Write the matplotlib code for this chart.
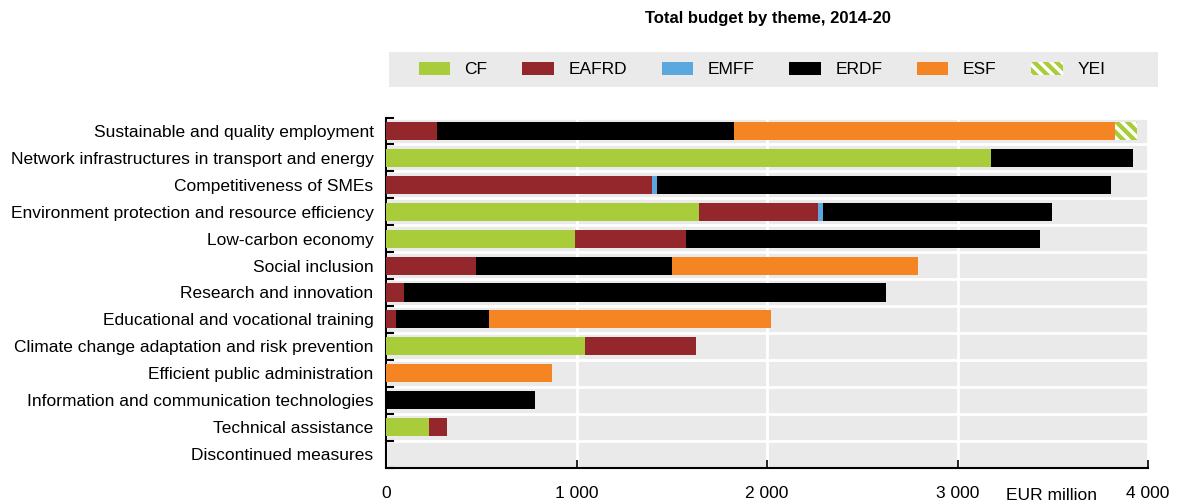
import matplotlib
matplotlib.use("Agg")
import matplotlib.pyplot as plt
from matplotlib.patches import Patch, Rectangle
import numpy as np

plt.rcParams['font.family'] = ['Liberation Sans Narrow', 'Liberation Sans', 'DejaVu Sans']
plt.rcParams['hatch.linewidth'] = 2.5

themes = [
    "Sustainable and quality employment",
    "Network infrastructures in transport and energy",
    "Competitiveness of SMEs",
    "Environment protection and resource efficiency",
    "Low-carbon economy",
    "Social inclusion",
    "Research and innovation",
    "Educational and vocational training",
    "Climate change adaptation and risk prevention",
    "Efficient public administration",
    "Information and communication technologies",
    "Technical assistance",
    "Discontinued measures",
]
funds = ["CF", "EAFRD", "EMFF", "ERDF", "ESF", "YEI"]
CF    = [0,    3176, 0,    1643, 992,  0,    0,    0,    1045, 0,   0,   226, 0]
EAFRD = [268,  0,    1396, 625,  583,  472,  94,   52,   582,  0,   0,   94,  0]
EMFF  = [0,    0,    27,   26,   0,    0,    0,    0,    0,    0,   0,   0,   0]
ERDF  = [1559, 745,  2383, 1202, 1858, 1029, 2531, 489,  0,    0,   782, 0,   0]
ESF   = [2000, 0,    0,    0,    0,    1292, 0,    1480, 0,    871, 0,   0,   0]
YEI   = [115,  0,    0,    0,    0,    0,    0,    0,    0,    0,   0,   0,   0]
xticks = [0, 1000, 2000, 3000, 4000]
xticklabels = ["0", "1 000", "2 000", "3 000", "4 000"]

series = [CF, EAFRD, EMFF, ERDF, ESF, YEI]
colors = ["#A9CD3A", "#93272C", "#5BA8DF", "#000000", "#F58523", "#A9CD3A"]
hatches = [None, None, None, None, None, "\\\\\\"]

fig = plt.figure(figsize=(11.77, 5.04), dpi=100)
ax = fig.add_axes([386/1177, 1-467.5/504, (1148-386)/1177, (467.5-117.5)/504])
ax.set_facecolor("#EAEAEA")

y = np.arange(len(themes))
left = np.zeros(len(themes))
for vals, c, h, name in zip(series, colors, hatches, funds):
    vals = np.array(vals, dtype=float)
    if h:
        ax.barh(y, vals, left=left, height=0.67, color=c, edgecolor="white",
                hatch=h, linewidth=0, zorder=3, label=name)
    else:
        ax.barh(y, vals, left=left, height=0.67, color=c, linewidth=0,
                zorder=3, label=name)
    left += vals

ax.set_xlim(0, 4000)
ax.set_ylim(len(themes)-0.5, -0.5)
ax.set_yticks(y)
ax.set_yticklabels(themes, fontsize=12.5)
ax.set_yticks(np.arange(-0.5, len(themes), 1), minor=True)
ax.tick_params(axis='y', which='major', length=0, pad=9)
ax.tick_params(axis='y', which='minor', length=6, width=1.5, direction='in', color='black')
ax.set_xticks(xticks)
ax.set_xticklabels(xticklabels, fontsize=12.5)
ax.tick_params(axis='x', which='major', length=6, width=1.2, direction='in', pad=13)
ax.grid(axis='x', which='major', color='white', linewidth=2, zorder=1)
ax.grid(axis='y', which='minor', color='white', linewidth=2, zorder=1)
for s in ['top', 'right']:
    ax.spines[s].set_visible(False)
ax.spines['left'].set_linewidth(1.5)
ax.spines['bottom'].set_linewidth(1.5)
ax.set_axisbelow(True)

fig.text(1052/1177, 1-495/504, "EUR million", fontsize=12.5, ha='center', va='center')
fig.text(768/1177, 1-18/504, "Total budget by theme, 2014-20", fontsize=12,
         fontweight='bold', ha='center', va='center', family=['Liberation Sans', 'DejaVu Sans'])

fig.add_artist(Rectangle((389/1177, 1-87/504), (1158-389)/1177, 35/504,
                         transform=fig.transFigure, facecolor="#EAEAEA", edgecolor='none', zorder=0))
handles = [Patch(facecolor=c, edgecolor="white" if h else c, hatch=h, linewidth=0)
           for c, h in zip(colors, hatches)]
fig.legend(handles, funds, loc='center', bbox_to_anchor=(762/1177, 1-69.5/504), ncol=6,
           frameon=False, fontsize=12.5, handlelength=1.8, handleheight=0.85,
           columnspacing=2.0, handletextpad=0.85)

fig.savefig("out.png", dpi=100)
